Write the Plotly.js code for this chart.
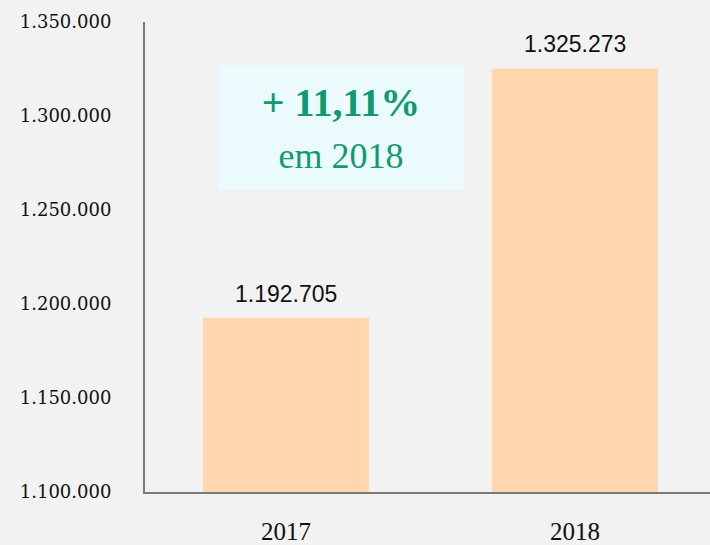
<!DOCTYPE html>
<html><head><meta charset="utf-8">
<script src="https://cdn.plot.ly/plotly-3.0.1.min.js"></script>
<style>html,body{margin:0;padding:0;background:#f2f2f2;}</style>
</head><body>
<div id="chart" style="width:710px;height:545px;"></div>
<script>
const categories = ["2017", "2018"];
const values = [1192705, 1325273];
const tickVals = [1100000, 1150000, 1200000, 1250000, 1300000, 1350000];
const growthText = "+ 11,11%";
const growthYear = "em 2018";

const fmt = v => v.toString().replace(/\B(?=(\d{3})+(?!\d))/g, ".");

const trace = {
  type: "bar", x: categories, y: values,
  marker: {color: "#ffd6ad"}, width: 0.574,
  hoverinfo: "none"
};

const annotations = categories.map((c, i) => ({
  x: i, y: values[i], xref: "x", yref: "y", text: fmt(values[i]),
  showarrow: false, yanchor: "bottom", yshift: 9,
  font: {family: "Liberation Sans, Arial, sans-serif", size: 23, color: "#111"}
}));
annotations.push({
  xref: "paper", yref: "paper", x: (341 - 145) / 565, y: (545 - 53 - 127) / 470,
  xanchor: "center", yanchor: "middle", showarrow: false,
  text: "<b>" + growthText + "</b><br><span style='font-size:36px'>" + growthYear + "</span>",
  font: {family: "Liberation Serif, serif", size: 40, color: "#129a6e"},
  bgcolor: "#ebfbfd", width: 242, height: 121, align: "center"
});

const layout = {
  width: 710, height: 545,
  paper_bgcolor: "#f2f2f2", plot_bgcolor: "#f2f2f2",
  margin: {l: 145, r: 0, t: 22, b: 53},
  separators: ",.",
  showlegend: false,
  xaxis: {
    type: "category", range: [-0.488, 1.467],
    showline: true, linecolor: "#7a7a7a", linewidth: 2,
    ticks: "", showgrid: false, zeroline: false,
    tickfont: {family: "Liberation Serif, serif", size: 25, color: "#111"},
    ticklabelstandoff: 16
  },
  yaxis: {
    range: [1100000, 1350000], tickvals: tickVals, tickformat: ",",
    showline: true, linecolor: "#7a7a7a", linewidth: 2,
    ticks: "", showgrid: false, zeroline: false,
    tickfont: {family: "DejaVu Serif, serif", size: 18, color: "#111"},
    ticklabelstandoff: 28
  },
  annotations: annotations
};
Plotly.newPlot("chart", [trace], layout, {displayModeBar: false, staticPlot: true});
</script>
</body></html>
